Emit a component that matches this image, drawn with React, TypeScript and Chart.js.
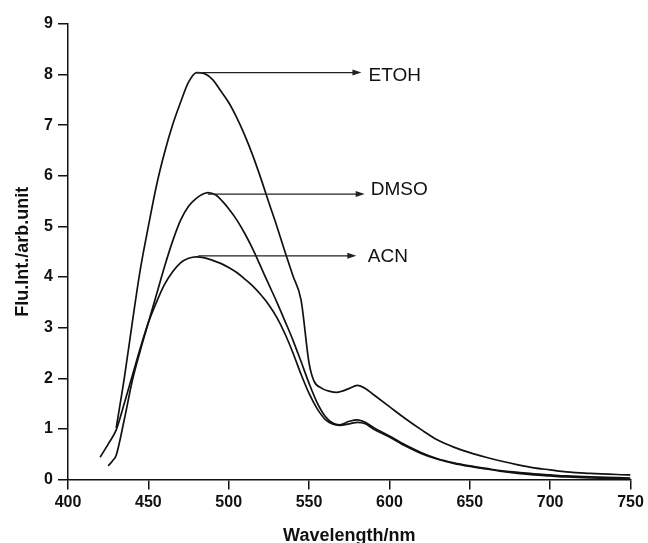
import React, { useEffect, useRef } from "react";
import { Chart, registerables } from "chart.js";

Chart.register(...registerables);

const FONT = "'Liberation Sans', Arial, Helvetica, sans-serif";

const xTicksMin = 400;
const xTicksMax = 750;
const xTickStep = 50;
const yTicksMin = 0;
const yTicksMax = 9;
const yTickStep = 1;

const xTitle = "Wavelength/nm";
const yTitle = "Flu.Int./arb.unit";

const etohX = [430, 435, 440, 445, 450, 455, 460, 465, 470, 475, 480, 485, 490, 495, 500, 505, 510, 515, 520, 525, 530, 535, 540, 545, 550, 553, 558, 563, 567, 571, 575, 580, 585, 590, 600, 610, 620, 630, 640, 650, 660, 670, 680, 690, 700, 710, 725, 750];
const etohY = [1.02, 2.0, 3.1, 4.15, 5.0, 5.8, 6.45, 7.0, 7.45, 7.85, 8.04, 8.02, 7.9, 7.68, 7.45, 7.15, 6.8, 6.4, 5.95, 5.47, 5.0, 4.5, 4.02, 3.55, 2.3, 1.95, 1.8, 1.74, 1.72, 1.75, 1.8, 1.86, 1.8, 1.68, 1.44, 1.2, 0.98, 0.78, 0.64, 0.53, 0.44, 0.36, 0.29, 0.23, 0.19, 0.15, 0.12, 0.09];

const dmsoX = [425, 428, 430, 435, 440, 445, 450, 455, 460, 465, 470, 475, 480, 484, 487, 492, 496, 500, 505, 510, 515, 520, 525, 530, 535, 540, 545, 550, 555, 560, 565, 569, 575, 580, 585, 590, 600, 610, 620, 630, 640, 650, 660, 670, 680, 690, 700, 710, 725, 750];
const dmsoY = [0.27, 0.38, 0.48, 1.18, 1.95, 2.55, 3.1, 3.65, 4.2, 4.7, 5.12, 5.4, 5.56, 5.64, 5.67, 5.62, 5.5, 5.35, 5.13, 4.86, 4.55, 4.2, 3.85, 3.5, 3.13, 2.75, 2.33, 1.9, 1.52, 1.25, 1.11, 1.08, 1.15, 1.18, 1.13, 1.03, 0.86, 0.68, 0.53, 0.41, 0.33, 0.27, 0.22, 0.17, 0.14, 0.11, 0.09, 0.07, 0.05, 0.03];

const acnX = [420, 425, 430, 435, 440, 445, 450, 455, 460, 465, 470, 475, 480, 485, 490, 495, 500, 505, 510, 515, 520, 525, 530, 535, 540, 545, 550, 555, 560, 565, 569, 575, 580, 585, 590, 600, 610, 620, 630, 640, 650, 660, 670, 680, 690, 700, 710, 725, 750];
const acnY = [0.44, 0.7, 0.98, 1.5, 2.05, 2.6, 3.1, 3.5, 3.85, 4.1, 4.28, 4.37, 4.4, 4.38, 4.33, 4.27, 4.19, 4.09, 3.96, 3.82, 3.65, 3.45, 3.2, 2.88, 2.5, 2.08, 1.7, 1.4, 1.19, 1.09, 1.07, 1.1, 1.13, 1.1, 1.0, 0.84, 0.66, 0.51, 0.4, 0.32, 0.26, 0.21, 0.16, 0.12, 0.09, 0.07, 0.05, 0.03, 0.01];

const seriesNames = ["ETOH", "DMSO", "ACN"];

// arrow annotations (data units)
const arrowLabels = ["ETOH", "DMSO", "ACN"];
const arrowY = [8.04, 5.64, 4.42];
const arrowXStart = [480, 487, 481];
const arrowXEnd = [582.6, 584.6, 579.4];
const labelY = [7.97, 5.72, 4.4];
const labelX = [587, 588.4, 586.5];

const toPoints = (xs: number[], ys: number[]) => xs.map((x, i) => ({ x, y: ys[i] }));

const arrowPlugin = {
  id: "arrowLabels",
  afterDatasetsDraw(chart: any) {
    const { ctx, scales } = chart;
    const xs = scales.x;
    const ys = scales.y;
    ctx.save();
    for (let i = 0; i < arrowLabels.length; i++) {
      const x0 = xs.getPixelForValue(arrowXStart[i]);
      const x1 = xs.getPixelForValue(arrowXEnd[i]);
      const y = ys.getPixelForValue(arrowY[i]);
      ctx.strokeStyle = "#222";
      ctx.fillStyle = "#222";
      ctx.lineWidth = 1.2;
      ctx.beginPath();
      ctx.moveTo(x0, y);
      ctx.lineTo(x1 - 6, y);
      ctx.stroke();
      ctx.beginPath();
      ctx.moveTo(x1, y);
      ctx.lineTo(x1 - 9, y - 3);
      ctx.lineTo(x1 - 9, y + 3);
      ctx.closePath();
      ctx.fill();
      ctx.font = `19px ${FONT}`;
      ctx.textAlign = "left";
      ctx.textBaseline = "middle";
      ctx.fillStyle = "#111";
      ctx.fillText(arrowLabels[i], xs.getPixelForValue(labelX[i]), ys.getPixelForValue(labelY[i]));
    }
    ctx.restore();
  },
};

export default function App() {
  const ref = useRef<HTMLCanvasElement | null>(null);
  useEffect(() => {
    document.body.style.margin = "0";
    const canvas = ref.current;
    if (!canvas) return;
    const series = [toPoints(etohX, etohY), toPoints(dmsoX, dmsoY), toPoints(acnX, acnY)];
    const chart = new Chart(canvas, {
      type: "line",
      data: {
        datasets: series.map((d, i) => ({
          label: seriesNames[i],
          data: d,
          borderColor: "#111",
          borderWidth: 1.7,
          pointRadius: 0,
          fill: false,
          cubicInterpolationMode: "monotone" as const,
        })),
      },
      options: {
        animation: false,
        responsive: false,
        devicePixelRatio: 1,
        layout: { padding: { top: 24, right: 17.5, left: 0, bottom: 0 } },
        plugins: { legend: { display: false }, tooltip: { enabled: false } },
        scales: {
          x: {
            type: "linear",
            min: xTicksMin,
            max: xTicksMax,
            ticks: {
              stepSize: xTickStep,
              color: "#111",
              padding: 3,
              font: { family: FONT, size: 16, weight: "bold" },
            },
            grid: { display: true, drawOnChartArea: false, drawTicks: true, tickLength: 10, color: "#111", lineWidth: 1.5 },
            border: { display: true, color: "#111", width: 1.5 },
            title: {
              display: true,
              text: xTitle,
              color: "#111",
              padding: 0,
              font: { family: FONT, size: 18, weight: "bold", lineHeight: 0.8 },
            },
            afterFit: (s: any) => {
              s.height = 63.5;
            },
          },
          y: {
            type: "linear",
            min: yTicksMin,
            max: yTicksMax,
            ticks: {
              stepSize: yTickStep,
              color: "#111",
              padding: 5,
              font: { family: FONT, size: 16, weight: "bold" },
            },
            grid: { display: true, drawOnChartArea: false, drawTicks: true, tickLength: 10, color: "#111", lineWidth: 1.5 },
            border: { display: true, color: "#111", width: 1.5 },
            title: {
              display: true,
              text: yTitle,
              color: "#111",
              padding: { top: 12, bottom: 0 },
              font: { family: FONT, size: 18, weight: "bold" },
            },
            afterFit: (s: any) => {
              s.width = 68;
            },
          },
        },
      },
      plugins: [arrowPlugin],
    });
    return () => chart.destroy();
  }, []);
  return (
    <div style={{ width: 648, height: 543, background: "#fff" }}>
      <canvas ref={ref} width={648} height={543} style={{ display: "block", width: 648, height: 543 }} />
    </div>
  );
}
